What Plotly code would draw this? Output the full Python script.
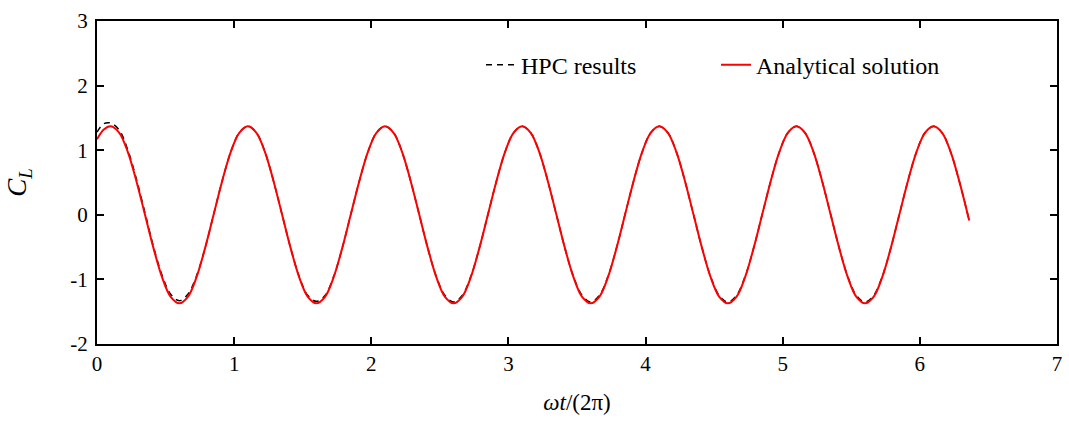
import plotly.graph_objects as go

# Time axis samples (omega t / 2pi)
x_time = [0.0, 0.05,
          0.1, 0.1625, 0.225, 0.2875, 0.35, 0.4125, 0.475, 0.5375, 0.6, 0.6625, 0.725, 0.7875, 0.85, 0.9125, 0.975, 1.0375,
          1.1, 1.1625, 1.225, 1.2875, 1.35, 1.4125, 1.475, 1.5375, 1.6, 1.6625, 1.725, 1.7875, 1.85, 1.9125, 1.975, 2.0375,
          2.1, 2.1625, 2.225, 2.2875, 2.35, 2.4125, 2.475, 2.5375, 2.6, 2.6625, 2.725, 2.7875, 2.85, 2.9125, 2.975, 3.0375,
          3.1, 3.1625, 3.225, 3.2875, 3.35, 3.4125, 3.475, 3.5375, 3.6, 3.6625, 3.725, 3.7875, 3.85, 3.9125, 3.975, 4.0375,
          4.1, 4.1625, 4.225, 4.2875, 4.35, 4.4125, 4.475, 4.5375, 4.6, 4.6625, 4.725, 4.7875, 4.85, 4.9125, 4.975, 5.0375,
          5.1, 5.1625, 5.225, 5.2875, 5.35, 5.4125, 5.475, 5.5375, 5.6, 5.6625, 5.725, 5.7875, 5.85, 5.9125, 5.975, 6.0375,
          6.1, 6.1625, 6.225, 6.2875, 6.36]

# Analytical solution C_L values
y_analytical = [1.17, 1.32,
                1.37, 1.27, 0.97, 0.52, 0.0, -0.52, -0.97, -1.27, -1.37, -1.27, -0.97, -0.52, 0.0, 0.52, 0.97, 1.27,
                1.37, 1.27, 0.97, 0.52, 0.0, -0.52, -0.97, -1.27, -1.37, -1.27, -0.97, -0.52, 0.0, 0.52, 0.97, 1.27,
                1.37, 1.27, 0.97, 0.52, 0.0, -0.52, -0.97, -1.27, -1.37, -1.27, -0.97, -0.52, 0.0, 0.52, 0.97, 1.27,
                1.37, 1.27, 0.97, 0.52, 0.0, -0.52, -0.97, -1.27, -1.37, -1.27, -0.97, -0.52, 0.0, 0.52, 0.97, 1.27,
                1.37, 1.27, 0.97, 0.52, 0.0, -0.52, -0.97, -1.27, -1.37, -1.27, -0.97, -0.52, 0.0, 0.52, 0.97, 1.27,
                1.37, 1.27, 0.97, 0.52, 0.0, -0.52, -0.97, -1.27, -1.37, -1.27, -0.97, -0.52, 0.0, 0.52, 0.97, 1.27,
                1.37, 1.27, 0.97, 0.52, -0.09]

# HPC results C_L values (slightly different in the first cycle)
y_hpc = [1.28, 1.41,
         1.42, 1.31, 1.0, 0.55, 0.03, -0.5, -0.94, -1.23, -1.33, -1.23, -0.95, -0.52, 0.0, 0.52, 0.97, 1.27,
         1.37, 1.27, 0.97, 0.52, 0.0, -0.52, -0.96, -1.25, -1.34, -1.25, -0.96, -0.52, 0.0, 0.52, 0.97, 1.27,
         1.37, 1.27, 0.97, 0.52, 0.0, -0.52, -0.96, -1.25, -1.35, -1.25, -0.96, -0.52, 0.0, 0.52, 0.97, 1.27,
         1.37, 1.27, 0.97, 0.52, 0.0, -0.52, -0.96, -1.25, -1.35, -1.25, -0.96, -0.52, 0.0, 0.52, 0.97, 1.27,
         1.37, 1.27, 0.97, 0.52, 0.0, -0.52, -0.96, -1.25, -1.35, -1.25, -0.96, -0.52, 0.0, 0.52, 0.97, 1.27,
         1.37, 1.27, 0.97, 0.52, 0.0, -0.52, -0.96, -1.25, -1.35, -1.25, -0.96, -0.52, 0.0, 0.52, 0.97, 1.27,
         1.37, 1.27, 0.97, 0.52, -0.09]

x_ticks = [0, 1, 2, 3, 4, 5, 6, 7]
x_ticktext = ["0", "1", "2", "3", "4", "5", "6", "7"]
y_ticks = [-2, -1, 0, 1, 2, 3]
y_ticktext = ["-2", "-1", "0", "1", "2", "3"]

FONT = "Liberation Serif, Tinos, Times New Roman, DejaVu Serif, serif"

fig = go.Figure()
fig.add_trace(go.Scatter(
    x=x_time, y=y_hpc, mode="lines", name="HPC results",
    line=dict(color="black", width=1.5, dash="6px,5px", shape="spline"),
))
fig.add_trace(go.Scatter(
    x=x_time, y=y_analytical, mode="lines", name="Analytical solution",
    line=dict(color="#ff0000", width=2, shape="spline"),
))

axis_common = dict(
    showline=True, linecolor="black", linewidth=2, mirror="ticks",
    ticks="inside", ticklen=7, tickwidth=1.5, tickcolor="black",
    showgrid=False, zeroline=False, automargin=False,
    tickfont=dict(family=FONT, size=21, color="black"),
)

fig.update_layout(
    width=1069, height=421,
    margin=dict(l=97, r=12, t=21, b=77),
    paper_bgcolor="white", plot_bgcolor="white",
    font=dict(family=FONT, color="black"),
    showlegend=True,
    legend=dict(
        orientation="h", x=0.40, y=0.863, xanchor="left", yanchor="middle",
        font=dict(family=FONT, size=24, color="black"),
        bgcolor="rgba(0,0,0,0)", entrywidth=190, entrywidthmode="pixels",
    ),
    xaxis=dict(
        range=[0, 7], tickvals=x_ticks, ticktext=x_ticktext, **axis_common,
        title=dict(text="<i>ω</i><i>t</i>/(2π)", font=dict(family=FONT, size=23), standoff=19),
    ),
    yaxis=dict(
        range=[-2, 3], tickvals=y_ticks, ticktext=y_ticktext, ticklabelstandoff=3, **axis_common,
        title=dict(text="<i>C</i><sub><i>L</i></sub>", font=dict(family=FONT, size=27), standoff=36),
    ),
)

fig.write_html(
    "out.html",
    config={"displayModeBar": False},
    post_script="document.body.style.margin='0';document.body.style.padding='0';",
)
